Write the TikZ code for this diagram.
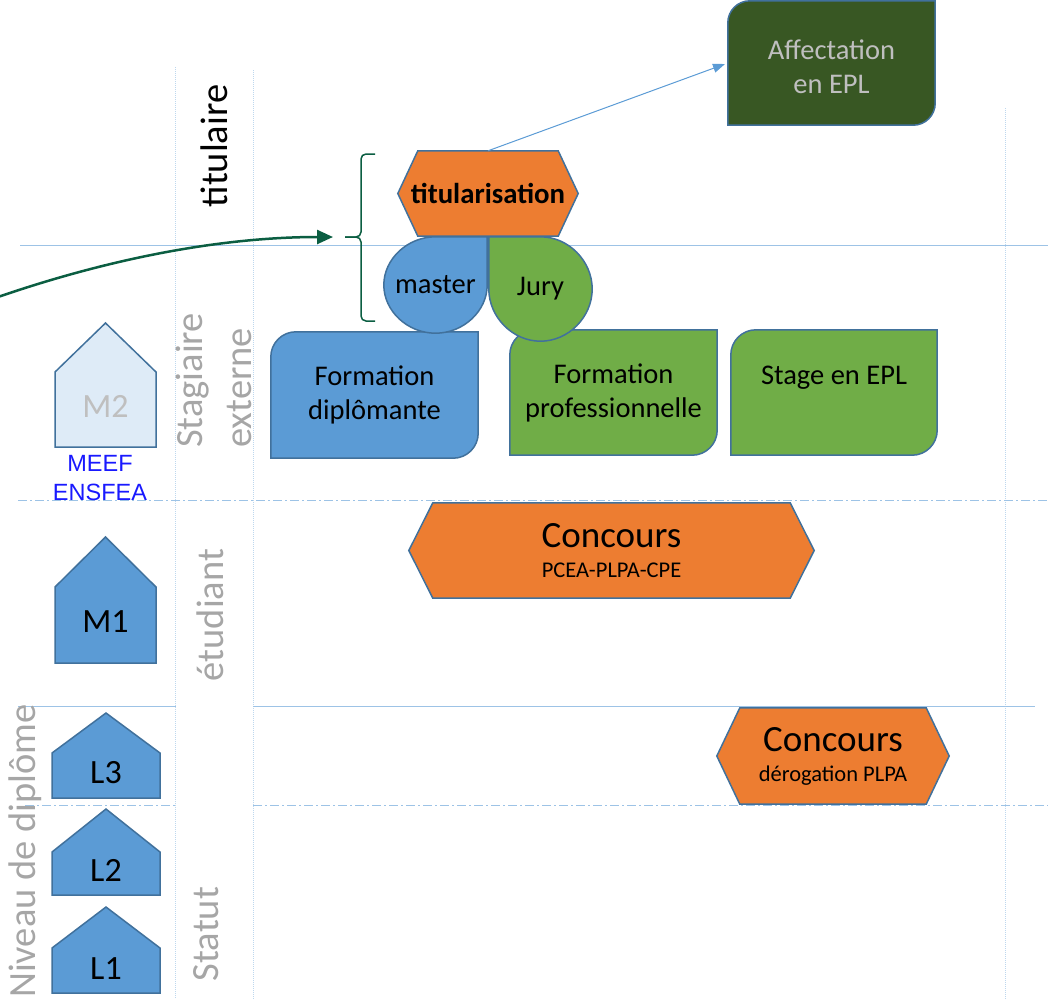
\documentclass[tikz,border=0pt]{standalone}
\usepackage{fontspec}
\setmainfont{Carlito}
\newfontfamily\arialfont{Liberation Sans}
\usetikzlibrary{arrows.meta,backgrounds}

\definecolor{bleu}{HTML}{5B9BD5}
\definecolor{bleupale}{HTML}{DEEBF7}
\definecolor{contour}{HTML}{41719C}
\definecolor{vert}{HTML}{70AD47}
\definecolor{vertfonce}{HTML}{385723}
\definecolor{orangebox}{HTML}{ED7D31}
\definecolor{gristexte}{HTML}{A6A6A6}
\definecolor{grisclair}{HTML}{BFBFBF}
\definecolor{grille}{HTML}{9DC3E6}
\definecolor{grillept}{HTML}{BDD7EE}
\definecolor{flechevert}{HTML}{0B5E42}
\definecolor{meef}{RGB}{25,25,255}

% maison : gauche, droite, faite, epaule, base, couleur
\newcommand{\maison}[6]{%
  \draw[contourline,fill=#6] (#1,#5) -- (#1,#4) -- ({(#1+#2)/2},#3) -- (#2,#4) -- (#2,#5) -- cycle;}
% hexagone autour d'un noeud : noeud, retrait, couleur
\newcommand{\hexa}[3]{%
  \draw[contourline,fill=#3] (#1.west) -- ([xshift=#2]#1.north west) -- ([xshift=-#2]#1.north east)
    -- (#1.east) -- ([xshift=-#2]#1.south east) -- ([xshift=#2]#1.south west) -- cycle;}
% coins arrondis en diagonale : noeud, rayon, couleur
\newcommand{\diag}[3]{%
  \draw[contourline,fill=#3] ([yshift=-#2]#1.north west)
    .. controls ([yshift=-0.45*#2]#1.north west) and ([xshift=0.45*#2]#1.north west) .. ([xshift=#2]#1.north west)
    -- (#1.north east) -- ([yshift=#2]#1.south east)
    .. controls ([yshift=0.45*#2]#1.south east) and ([xshift=-0.45*#2]#1.south east) .. ([xshift=-#2]#1.south east)
    -- (#1.south west) -- cycle;}

\begin{document}
\begin{tikzpicture}[x=1pt,y=-1pt,
    contourline/.style={draw=contour,line width=1.5pt},
    boxtext/.style={inner sep=0pt,align=center,font=\fontsize{28.5}{34}\selectfont},
    cotegris/.style={inner sep=0pt,rotate=90,text=gristexte,font=\fontsize{38.5}{49}\selectfont},
    maisontext/.style={inner sep=0pt,font=\fontsize{34}{40}\selectfont},
    concours/.style={inner sep=0pt,align=center,font=\fontsize{37}{30}\selectfont},
    ligne/.style={draw=grille,line width=1pt},
    tiret/.style={ligne,dash pattern=on 9pt off 3pt on 2pt off 3pt},
    pointille/.style={draw=grillept,line width=1pt,densely dotted}]
  \useasboundingbox (0,0) rectangle (1048,999);

  % boites
  \node[boxtext,minimum width=207pt,minimum height=124pt,text=grisclair,text height=62pt] (affect) at (831.5,63) {Affectation\\en EPL};
  \node[boxtext,minimum width=180pt,minimum height=85pt,font=\fontsize{28.8}{34}\selectfont\bfseries] (titu) at (488,193.5) {titularisation};
  \node[boxtext,minimum width=103pt,minimum height=96pt] (master) at (435.5,285) {master};
  \node[boxtext,minimum width=103pt,minimum height=104pt] (jury) at (540.5,289) {Jury};
  \node[boxtext,minimum width=207pt,minimum height=126pt] (fdipl) at (374.5,395) {Formation\\diplômante};
  \node[boxtext,minimum width=207pt,minimum height=125pt] (fpro) at (613.5,392.5) {Formation\\professionnelle};
  \node[boxtext,minimum width=206pt,minimum height=125pt,text depth=34pt] (stage) at (834,392.5) {Stage en EPL};
  \node[concours,minimum width=405pt,minimum height=95pt] (conc1) at (611.5,550.5) {Concours\\\fontsize{22.5}{27}\selectfont PCEA-PLPA-CPE};
  \node[concours,minimum width=232pt,minimum height=96pt] (conc2) at (833,756) {Concours\\\fontsize{22.5}{27}\selectfont dérogation PLPA};

  % niveaux
  \node[maisontext,text=grisclair] (m2) at (105.5,406.5) {M2};
  \node[maisontext] (m1) at (105.5,621.5) {M1};
  \node[maisontext] (l3) at (106,773) {L3};
  \node[maisontext] (l2) at (106,870) {L2};
  \node[maisontext] (l1) at (106,968.5) {L1};
  \node[inner sep=0pt,align=center,text=meef,font=\arialfont\fontsize{23.5}{29}\selectfont] (meef) at (100,478.5) {MEEF\\ENSFEA};

  % statuts
  \node[cotegris,text=black] (titulaire) at (214.5,146) {titulaire};
  \node[cotegris,align=left,anchor=west] (stagiaire) at (213.5,448) {Stagiaire\\externe};
  \node[cotegris] (etudiant) at (210,615) {étudiant};
  \node[cotegris] (statut) at (206,934) {Statut};
  \node[cotegris] (niveau) at (25,851) {Niveau de diplôme};

  \coordinate (depart) at (-2,297);
  \coordinate (accolade) at (345,237);

  \begin{pgfonlayer}{background}
    % grille
    \draw[pointille] (175,67) -- (175,999);
    \draw[pointille] (253,70) -- (253,999);
    \draw[pointille] (1005,108) -- (1005,999);
    \draw[ligne] (20,245) -- (1048,245);
    \draw[tiret] (18,500) -- (1048,500);
    \draw[ligne] (18,706) -- (176,706) (253,706) -- (1035,706);
    \draw[tiret] (25,805) -- (176,805) (253,805) -- (1048,805);
    % maisons
    \maison{55}{156}{323}{372}{447}{bleupale}
    \maison{55}{156}{537}{587}{663}{bleu}
    \maison{52}{160}{713}{753}{798}{bleu}
    \maison{52}{160}{809}{852}{895}{bleu}
    \maison{52}{160}{907}{948}{993}{bleu}
    % boites
    \diag{affect}{22pt}{vertfonce}
    \diag{fdipl}{25pt}{bleu}
    \diag{fpro}{25pt}{vert}
    \diag{stage}{25pt}{vert}
    \hexa{conc1}{24pt}{orangebox}
    \hexa{conc2}{23pt}{orangebox}
    % gouttes
    \draw[contourline,fill=bleu] (master.north east) -- (master.east)
      .. controls ([yshift=-26pt]master.east) and ([xshift=28pt]master.south) .. (master.south)
      .. controls ([xshift=-28pt]master.south) and ([yshift=-26pt]master.west) .. (master.west)
      .. controls ([yshift=26pt]master.west) and ([xshift=-28pt]master.north) .. (master.north) -- cycle;
    \draw[contourline,fill=vert] (jury.north west) -- (jury.north)
      .. controls ([xshift=28pt]jury.north) and ([yshift=28pt]jury.east) .. (jury.east)
      .. controls ([yshift=-28pt]jury.east) and ([xshift=28pt]jury.south) .. (jury.south)
      .. controls ([xshift=-28pt]jury.south) and ([yshift=-28pt]jury.west) .. (jury.west) -- cycle;
    \hexa{titu}{20pt}{orangebox}
  \end{pgfonlayer}

  % fleches
  \draw[-{Triangle[length=12pt,width=9pt]},bleu,line width=1pt,shorten >=3pt] (titu.north) -- (affect.west);
  \draw[-{Triangle[length=16pt,width=14pt]},flechevert,line width=2.5pt,shorten >=12pt]
    (depart) .. controls (120,255) and (230,237) .. (accolade);
  % accolade
  \draw[flechevert,line width=1.5pt,rounded corners=5pt] (375,154) -- (361,154) -- (361,237) -- (accolade);
  \draw[flechevert,line width=1.5pt,rounded corners=5pt] (accolade) -- (361,237) -- (361,321) -- (375,321);
\end{tikzpicture}
\end{document}
